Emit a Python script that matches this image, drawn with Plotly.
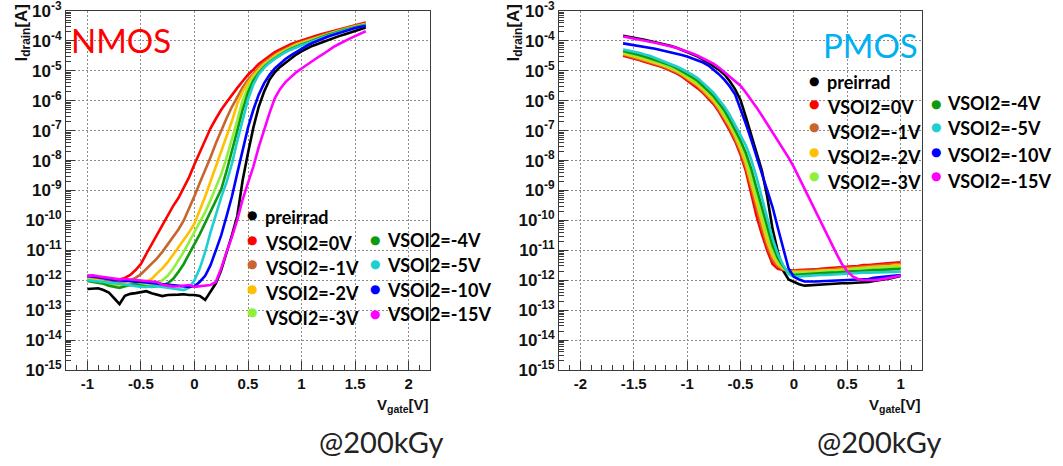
import plotly.graph_objects as go

W, H = 1063, 466

# ---------------- DATA ----------------
nmos_vgate = [-1.0, -0.95, -0.9, -0.85, -0.8, -0.75, -0.7, -0.65, -0.6, -0.55,
              -0.5, -0.45, -0.4, -0.35, -0.3, -0.25, -0.2, -0.15, -0.1, -0.05,
              0.0, 0.05, 0.1, 0.15, 0.2, 0.25, 0.3, 0.35, 0.4, 0.45,
              0.5, 0.55, 0.6, 0.65, 0.7, 0.75, 0.8, 0.85, 0.9, 0.95,
              1.0, 1.05, 1.1, 1.15, 1.2, 1.25, 1.3, 1.35, 1.4, 1.45,
              1.5, 1.55, 1.6]

nmos_preirrad = [5.1e-13, 5.2e-13, 5.4e-13, 4.7e-13, 3.9e-13, 2.5e-13, 1.6e-13, 3.0e-13, 3.5e-13, 3.7e-13,
                 4.0e-13, 4.3e-13, 3.7e-13, 3.3e-13, 2.95e-13, 3.2e-13, 3.2e-13, 3.3e-13, 3.4e-13, 3.2e-13,
                 3.2e-13, 3.0e-13, 2.2e-13, 4.0e-13, 7.9e-13, 2.2e-12, 7.9e-12, 3.2e-11, 1.4e-10, 2.2e-9,
                 1.8e-8, 1.26e-7, 6.3e-7, 2.0e-6, 5.0e-6, 8.9e-6, 1.35e-5, 1.9e-5, 2.6e-5, 3.5e-5,
                 4.5e-5, 5.6e-5, 6.8e-5, 7.9e-5, 9.3e-5, 1.07e-4, 1.23e-4, 1.45e-4, 1.65e-4, 1.9e-4,
                 2.2e-4, 2.45e-4, 2.8e-4]
nmos_vsoi_0 = [1.3e-12, 1.2e-12, 1.1e-12, 1.05e-12, 1.0e-12, 1.0e-12, 1.05e-12, 1.2e-12, 1.5e-12, 2.2e-12,
               3.5e-12, 7.6e-12, 1.6e-11, 3.4e-11, 7.6e-11, 1.5e-10, 3.0e-10, 5.6e-10, 1.2e-9, 2.8e-9,
               7.6e-9, 2.0e-8, 4.8e-8, 1.2e-7, 2.5e-7, 5.0e-7, 8.9e-7, 1.6e-6, 2.7e-6, 4.5e-6,
               7.4e-6, 1.1e-5, 1.7e-5, 2.3e-5, 3.2e-5, 4.2e-5, 5.2e-5, 6.5e-5, 7.8e-5, 9.1e-5,
               1.05e-4, 1.2e-4, 1.4e-4, 1.55e-4, 1.75e-4, 1.95e-4, 2.2e-4, 2.45e-4, 2.75e-4, 3.0e-4,
               3.4e-4, 3.7e-4, 4.1e-4]
nmos_vsoi_m1 = [1.2e-12, 1.1e-12, 1.05e-12, 1.0e-12, 9.3e-13, 8.9e-13, 8.9e-13, 9.1e-13, 1.0e-12, 1.2e-12,
                1.6e-12, 2.4e-12, 3.5e-12, 5.4e-12, 8.9e-12, 1.6e-11, 2.8e-11, 5.0e-11, 1.0e-10, 2.5e-10,
                6.6e-10, 1.8e-9, 4.7e-9, 1.3e-8, 3.8e-8, 1.05e-7, 2.6e-7, 6.3e-7, 1.4e-6, 2.8e-6,
                5.0e-6, 8.3e-6, 1.26e-5, 1.9e-5, 2.6e-5, 3.5e-5, 4.5e-5, 5.5e-5, 6.8e-5, 8.1e-5,
                9.3e-5, 1.07e-4, 1.23e-4, 1.4e-4, 1.6e-4, 1.8e-4, 2.0e-4, 2.3e-4, 2.6e-4, 2.9e-4,
                3.2e-4, 3.5e-4, 3.8e-4]
nmos_vsoi_m2 = [1.1e-12, 1.05e-12, 1.0e-12, 8.9e-13, 7.9e-13, 7.1e-13, 6.6e-13, 6.3e-13, 6.8e-13, 7.1e-13,
                7.6e-13, 8.9e-13, 1.1e-12, 1.7e-12, 2.5e-12, 4.0e-12, 7.1e-12, 1.2e-11, 2.1e-11, 4.0e-11,
                7.9e-11, 2.1e-10, 6.3e-10, 2.0e-9, 6.3e-9, 2.0e-8, 6.3e-8, 2.1e-7, 7.9e-7, 2.0e-6,
                4.0e-6, 7.1e-6, 1.1e-5, 1.7e-5, 2.3e-5, 3.2e-5, 4.1e-5, 5.1e-5, 6.3e-5, 7.6e-5,
                8.7e-5, 1.0e-4, 1.15e-4, 1.3e-4, 1.5e-4, 1.75e-4, 1.95e-4, 2.2e-4, 2.45e-4, 2.75e-4,
                3.0e-4, 3.3e-4, 3.7e-4]
nmos_vsoi_m3 = [1.07e-12, 1.0e-12, 9.3e-13, 8.7e-13, 7.9e-13, 7.6e-13, 7.2e-13, 7.1e-13, 7.2e-13, 7.6e-13,
                7.1e-13, 6.6e-13, 6.9e-13, 7.9e-13, 1.0e-12, 1.4e-12, 2.4e-12, 4.5e-12, 8.9e-12, 1.9e-11,
                4.0e-11, 8.5e-11, 1.9e-10, 4.7e-10, 1.26e-9, 3.5e-9, 1.26e-8, 5.0e-8, 2.2e-7, 1.05e-6,
                2.8e-6, 5.6e-6, 9.5e-6, 1.5e-5, 2.1e-5, 2.8e-5, 3.7e-5, 4.7e-5, 5.8e-5, 6.9e-5,
                8.1e-5, 9.3e-5, 1.07e-4, 1.26e-4, 1.45e-4, 1.65e-4, 1.9e-4, 2.15e-4, 2.4e-4, 2.7e-4,
                2.95e-4, 3.3e-4, 3.6e-4]
nmos_vsoi_m4 = [9.5e-13, 8.9e-13, 8.3e-13, 7.6e-13, 6.6e-13, 6.0e-13, 5.5e-13, 6.3e-13, 7.1e-13, 7.4e-13,
                6.6e-13, 6.3e-13, 6.0e-13, 6.3e-13, 6.8e-13, 7.9e-13, 1.1e-12, 1.9e-12, 3.5e-12, 7.6e-12,
                1.6e-11, 3.5e-11, 8.3e-11, 2.0e-10, 4.8e-10, 1.1e-9, 4.5e-9, 2.0e-8, 1.0e-7, 5.0e-7,
                1.9e-6, 4.7e-6, 8.5e-6, 1.35e-5, 1.95e-5, 2.6e-5, 3.5e-5, 4.4e-5, 5.4e-5, 6.5e-5,
                7.6e-5, 8.7e-5, 1.02e-4, 1.2e-4, 1.4e-4, 1.6e-4, 1.8e-4, 2.1e-4, 2.35e-4, 2.6e-4,
                2.9e-4, 3.2e-4, 3.5e-4]
nmos_vsoi_m5 = [1.0e-12, 9.5e-13, 8.9e-13, 8.3e-13, 7.9e-13, 7.9e-13, 7.6e-13, 7.1e-13, 6.8e-13, 6.3e-13,
                6.0e-13, 6.0e-13, 6.3e-13, 6.3e-13, 6.0e-13, 5.6e-13, 5.2e-13, 4.8e-13, 4.7e-13, 5.6e-13,
                1.0e-12, 2.5e-12, 8.9e-12, 4.0e-11, 1.6e-10, 6.0e-10, 1.9e-9, 7.9e-9, 4.5e-8, 2.5e-7,
                1.1e-6, 3.5e-6, 7.6e-6, 1.26e-5, 1.85e-5, 2.5e-5, 3.3e-5, 4.2e-5, 5.1e-5, 6.2e-5,
                7.2e-5, 8.3e-5, 9.8e-5, 1.1e-4, 1.3e-4, 1.5e-4, 1.75e-4, 2.0e-4, 2.25e-4, 2.5e-4,
                2.8e-4, 3.1e-4, 3.4e-4]
nmos_vsoi_m10 = [1.4e-12, 1.3e-12, 1.26e-12, 1.2e-12, 1.07e-12, 1.0e-12, 1.0e-12, 9.5e-13, 9.3e-13, 8.9e-13,
                 8.7e-13, 8.3e-13, 7.9e-13, 7.6e-13, 7.6e-13, 7.2e-13, 6.6e-13, 6.3e-13, 6.0e-13, 6.0e-13,
                 6.3e-13, 8.9e-13, 1.4e-12, 3.2e-12, 1.0e-11, 3.2e-11, 1.4e-10, 6.3e-10, 3.8e-9, 2.5e-8,
                 1.26e-7, 5.0e-7, 1.6e-6, 3.8e-6, 7.2e-6, 1.2e-5, 1.8e-5, 2.5e-5, 3.3e-5, 4.3e-5,
                 5.5e-5, 6.9e-5, 8.5e-5, 1.02e-4, 1.2e-4, 1.4e-4, 1.6e-4, 1.85e-4, 2.1e-4, 2.4e-4,
                 2.7e-4, 2.95e-4, 3.2e-4]
nmos_vsoi_m15 = [1.4e-12, 1.45e-12, 1.35e-12, 1.26e-12, 1.2e-12, 1.1e-12, 1.07e-12, 1.1e-12, 1.07e-12, 1.0e-12,
                 9.8e-13, 9.5e-13, 9.1e-13, 8.7e-13, 7.1e-13, 6.6e-13, 6.2e-13, 6.3e-13, 6.5e-13, 6.9e-13,
                 6.0e-13, 6.3e-13, 6.9e-13, 6.9e-13, 8.9e-13, 2.5e-12, 8.9e-12, 2.8e-11, 1.05e-10, 5.0e-10,
                 1.8e-9, 6.3e-9, 2.8e-8, 1.1e-7, 3.8e-7, 1.2e-6, 2.5e-6, 4.2e-6, 6.3e-6, 8.9e-6,
                 1.2e-5, 1.6e-5, 2.2e-5, 2.8e-5, 3.6e-5, 4.8e-5, 6.3e-5, 7.9e-5, 1.0e-4, 1.2e-4,
                 1.45e-4, 1.75e-4, 2.1e-4]

pmos_vgate = [-1.6, -1.55, -1.5, -1.45, -1.4, -1.35, -1.3, -1.25, -1.2, -1.15,
              -1.1, -1.05, -1.0, -0.95, -0.9, -0.85, -0.8, -0.75, -0.7, -0.65,
              -0.6, -0.55, -0.5, -0.45, -0.4, -0.35, -0.3, -0.25, -0.2, -0.15,
              -0.1, -0.05, 0.0, 0.05, 0.1, 0.15, 0.2, 0.25, 0.3, 0.35,
              0.4, 0.45, 0.5, 0.55, 0.6, 0.65, 0.7, 0.75, 0.8, 0.85,
              0.9, 0.95, 1.0]

pmos_preirrad = [1.5e-4, 1.4e-4, 1.3e-4, 1.2e-4, 1.1e-4, 1.0e-4, 9.1e-5, 8.3e-5, 7.6e-5, 6.8e-5,
                 5.9e-5, 5.1e-5, 4.4e-5, 3.6e-5, 3.0e-5, 2.4e-5, 1.9e-5, 1.4e-5, 1.07e-5, 7.6e-6,
                 4.5e-6, 2.4e-6, 1.07e-6, 2.9e-7, 7.2e-8, 1.8e-8, 4.6e-9, 6.3e-10, 5.2e-11, 8.9e-12,
                 2.1e-12, 1.07e-12, 8.7e-13, 7.4e-13, 6.6e-13, 6.8e-13, 7.1e-13, 7.4e-13, 7.6e-13, 7.8e-13,
                 7.9e-13, 7.9e-13, 7.9e-13, 8.1e-13, 8.1e-13, 8.3e-13, 8.7e-13, 9.5e-13, 1.0e-12, 1.05e-12,
                 1.15e-12, 1.26e-12, 1.4e-12]
pmos_vsoi_0 = [3.2e-5, 2.9e-5, 2.6e-5, 2.3e-5, 2.0e-5, 1.8e-5, 1.6e-5, 1.4e-5, 1.2e-5, 1.0e-5,
               8.3e-6, 6.5e-6, 4.9e-6, 3.6e-6, 2.6e-6, 1.8e-6, 1.2e-6, 7.6e-7, 4.2e-7, 2.1e-7,
               1.0e-7, 4.4e-8, 1.6e-8, 4.5e-9, 7.9e-10, 1.4e-10, 3.5e-11, 1.0e-11, 3.5e-12, 2.4e-12,
               2.2e-12, 2.1e-12, 2.1e-12, 2.2e-12, 2.2e-12, 2.3e-12, 2.3e-12, 2.4e-12, 2.5e-12, 2.5e-12,
               2.6e-12, 2.75e-12, 2.8e-12, 2.95e-12, 3.0e-12, 3.2e-12, 3.2e-12, 3.4e-12, 3.5e-12, 3.6e-12,
               3.7e-12, 3.9e-12, 4.0e-12]
pmos_vsoi_m1 = [3.5e-5, 3.1e-5, 2.75e-5, 2.5e-5, 2.2e-5, 2.0e-5, 1.7e-5, 1.5e-5, 1.26e-5, 1.07e-5,
                8.9e-6, 7.1e-6, 5.4e-6, 4.1e-6, 3.0e-6, 2.0e-6, 1.35e-6, 8.7e-7, 4.8e-7, 2.45e-7,
                1.2e-7, 5.2e-8, 2.0e-8, 6.0e-9, 1.2e-9, 2.2e-10, 5.4e-11, 1.4e-11, 4.8e-12, 2.9e-12,
                2.3e-12, 2.0e-12, 2.0e-12, 2.0e-12, 2.1e-12, 2.1e-12, 2.2e-12, 2.2e-12, 2.3e-12, 2.3e-12,
                2.45e-12, 2.6e-12, 2.6e-12, 2.7e-12, 2.75e-12, 2.9e-12, 2.95e-12, 3.1e-12, 3.2e-12, 3.3e-12,
                3.4e-12, 3.5e-12, 3.5e-12]
pmos_vsoi_m2 = [3.7e-5, 3.4e-5, 3.0e-5, 2.7e-5, 2.4e-5, 2.1e-5, 1.85e-5, 1.6e-5, 1.4e-5, 1.2e-5,
                9.8e-6, 7.8e-6, 5.9e-6, 4.5e-6, 3.3e-6, 2.3e-6, 1.55e-6, 9.8e-7, 5.6e-7, 2.9e-7,
                1.45e-7, 6.5e-8, 2.5e-8, 8.1e-9, 1.8e-9, 3.5e-10, 8.1e-11, 2.0e-11, 6.5e-12, 3.4e-12,
                2.45e-12, 1.95e-12, 1.9e-12, 1.9e-12, 1.95e-12, 2.0e-12, 2.0e-12, 2.1e-12, 2.1e-12, 2.2e-12,
                2.2e-12, 2.3e-12, 2.4e-12, 2.5e-12, 2.6e-12, 2.6e-12, 2.7e-12, 2.8e-12, 2.95e-12, 2.95e-12,
                3.0e-12, 3.2e-12, 3.2e-12]
pmos_vsoi_m3 = [4.2e-5, 3.7e-5, 3.3e-5, 3.0e-5, 2.7e-5, 2.4e-5, 2.1e-5, 1.8e-5, 1.5e-5, 1.3e-5,
                1.1e-5, 8.7e-6, 6.8e-6, 5.2e-6, 3.9e-6, 2.7e-6, 1.8e-6, 1.2e-6, 6.8e-7, 3.6e-7,
                1.8e-7, 8.3e-8, 3.4e-8, 1.2e-8, 3.0e-9, 6.3e-10, 1.4e-10, 3.3e-11, 9.5e-12, 4.3e-12,
                2.6e-12, 1.9e-12, 1.7e-12, 1.75e-12, 1.8e-12, 1.8e-12, 1.9e-12, 1.9e-12, 1.95e-12, 2.0e-12,
                2.0e-12, 2.1e-12, 2.2e-12, 2.2e-12, 2.3e-12, 2.4e-12, 2.4e-12, 2.5e-12, 2.6e-12, 2.6e-12,
                2.7e-12, 2.75e-12, 2.8e-12]
pmos_vsoi_m4 = [4.6e-5, 4.2e-5, 3.8e-5, 3.4e-5, 3.0e-5, 2.7e-5, 2.3e-5, 2.0e-5, 1.75e-5, 1.5e-5,
                1.23e-5, 9.8e-6, 7.8e-6, 6.0e-6, 4.6e-6, 3.2e-6, 2.1e-6, 1.4e-6, 8.3e-7, 4.7e-7,
                2.3e-7, 1.1e-7, 4.7e-8, 1.8e-8, 5.4e-9, 1.2e-9, 2.6e-10, 5.5e-11, 1.45e-11, 5.5e-12,
                2.9e-12, 1.75e-12, 1.5e-12, 1.55e-12, 1.6e-12, 1.6e-12, 1.65e-12, 1.7e-12, 1.75e-12, 1.8e-12,
                1.8e-12, 1.9e-12, 1.9e-12, 2.0e-12, 2.0e-12, 2.1e-12, 2.1e-12, 2.2e-12, 2.2e-12, 2.2e-12,
                2.3e-12, 2.35e-12, 2.4e-12]
pmos_vsoi_m5 = [5.2e-5, 4.8e-5, 4.4e-5, 4.0e-5, 3.5e-5, 3.2e-5, 2.7e-5, 2.3e-5, 2.0e-5, 1.7e-5,
                1.4e-5, 1.15e-5, 9.3e-6, 7.4e-6, 5.6e-6, 4.0e-6, 2.7e-6, 1.8e-6, 1.1e-6, 6.3e-7,
                3.3e-7, 1.6e-7, 7.1e-8, 3.2e-8, 1.1e-8, 2.8e-9, 5.6e-10, 1.07e-10, 2.5e-11, 7.6e-12,
                3.2e-12, 1.6e-12, 1.3e-12, 1.35e-12, 1.4e-12, 1.4e-12, 1.45e-12, 1.5e-12, 1.5e-12, 1.55e-12,
                1.6e-12, 1.6e-12, 1.65e-12, 1.7e-12, 1.75e-12, 1.8e-12, 1.8e-12, 1.8e-12, 1.85e-12, 1.85e-12,
                1.9e-12, 1.9e-12, 1.95e-12]
pmos_vsoi_m10 = [8.3e-5, 7.8e-5, 7.2e-5, 6.8e-5, 6.3e-5, 5.9e-5, 5.5e-5, 5.0e-5, 4.6e-5, 4.2e-5,
                 3.8e-5, 3.4e-5, 3.0e-5, 2.6e-5, 2.2e-5, 1.9e-5, 1.5e-5, 1.07e-5, 7.6e-6, 5.0e-6,
                 3.0e-6, 1.6e-6, 5.6e-7, 1.7e-7, 5.0e-8, 1.4e-8, 4.0e-9, 1.1e-9, 2.8e-10, 5.6e-11,
                 1.26e-11, 2.5e-12, 1.3e-12, 1.05e-12, 9.1e-13, 8.9e-13, 9.1e-13, 9.3e-13, 9.5e-13, 9.5e-13,
                 9.8e-13, 1.0e-12, 1.0e-12, 1.02e-12, 1.05e-12, 1.07e-12, 1.1e-12, 1.2e-12, 1.26e-12, 1.3e-12,
                 1.4e-12, 1.45e-12, 1.5e-12]
pmos_vsoi_m15 = [1.4e-4, 1.3e-4, 1.2e-4, 1.1e-4, 1.05e-4, 9.5e-5, 8.7e-5, 7.9e-5, 7.2e-5, 6.6e-5,
                 5.9e-5, 5.1e-5, 4.5e-5, 3.8e-5, 3.2e-5, 2.6e-5, 2.1e-5, 1.7e-5, 1.26e-5, 8.9e-6,
                 6.6e-6, 4.7e-6, 3.2e-6, 1.9e-6, 1.1e-6, 6.0e-7, 3.2e-7, 1.7e-7, 8.9e-8, 4.7e-8,
                 2.5e-8, 1.26e-8, 6.0e-9, 2.6e-9, 1.1e-9, 4.7e-10, 2.0e-10, 8.7e-11, 3.8e-11, 1.7e-11,
                 7.6e-12, 3.5e-12, 2.0e-12, 1.35e-12, 1.1e-12, 1.02e-12, 1.0e-12, 1.0e-12, 1.05e-12, 1.1e-12,
                 1.2e-12, 1.3e-12, 1.45e-12]

series_names = ["preirrad", "VSOI2=0V", "VSOI2=-1V", "VSOI2=-2V", "VSOI2=-3V",
                "VSOI2=-4V", "VSOI2=-5V", "VSOI2=-10V", "VSOI2=-15V"]
series_colors = ["#000000", "#FF0000", "#C8642D", "#FFC000", "#90F038",
                 "#0E9A0E", "#1ECFCF", "#0000FF", "#FF00FF"]
nmos_series = [nmos_preirrad, nmos_vsoi_0, nmos_vsoi_m1, nmos_vsoi_m2, nmos_vsoi_m3,
               nmos_vsoi_m4, nmos_vsoi_m5, nmos_vsoi_m10, nmos_vsoi_m15]
pmos_series = [pmos_preirrad, pmos_vsoi_0, pmos_vsoi_m1, pmos_vsoi_m2, pmos_vsoi_m3,
               pmos_vsoi_m4, pmos_vsoi_m5, pmos_vsoi_m10, pmos_vsoi_m15]

y_tickvals = [1e-15, 1e-14, 1e-13, 1e-12, 1e-11, 1e-10, 1e-9, 1e-8, 1e-7, 1e-6, 1e-5, 1e-4, 1e-3]
y_ticktext = ["10<sup>-15</sup>", "10<sup>-14</sup>", "10<sup>-13</sup>", "10<sup>-12</sup>",
              "10<sup>-11</sup>", "10<sup>-10</sup>", "10<sup>-9</sup>", "10<sup>-8</sup>",
              "10<sup>-7</sup>", "10<sup>-6</sup>", "10<sup>-5</sup>", "10<sup>-4</sup>", "10<sup>-3</sup>"]
nmos_x_tickvals = [-1, -0.5, 0, 0.5, 1, 1.5, 2]
nmos_x_ticktext = ["-1", "-0.5", "0", "0.5", "1", "1.5", "2"]
pmos_x_tickvals = [-2, -1.5, -1, -0.5, 0, 0.5, 1]
pmos_x_ticktext = ["-2", "-1.5", "-1", "-0.5", "0", "0.5", "1"]

# ---------------- FIGURE ----------------
fig = go.Figure()

for ys, name, col in zip(nmos_series, series_names, series_colors):
    fig.add_trace(go.Scatter(x=nmos_vgate, y=ys, mode="lines", name=name,
                             line=dict(color=col, width=2.6), xaxis="x", yaxis="y",
                             showlegend=False))
for ys, name, col in zip(pmos_series, series_names, series_colors):
    fig.add_trace(go.Scatter(x=pmos_vgate, y=ys, mode="lines", name=name,
                             line=dict(color=col, width=2.6), xaxis="x2", yaxis="y2",
                             showlegend=False))


def px(v):
    return v / W


def py(v):
    return 1 - v / H


minor_log = [m * 10.0 ** e for e in range(-15, -3) for m in range(2, 10)]

xtick_font = dict(family="Liberation Sans, Arial, sans-serif", size=15, color="#111111", weight="bold")
ytick_font = dict(family="Liberation Sans, Arial, sans-serif", size=17, color="#111111", weight="bold")
common = dict(showline=True, linecolor="#3a3a3a", linewidth=1, mirror=True,
              ticks="inside", ticklen=9, tickwidth=1, tickcolor="#3a3a3a",
              showgrid=True, gridcolor="#8c8c8c", griddash="2px,2px", gridwidth=1,
              zeroline=False, fixedrange=True, automargin=False, ticklabeloverflow="allow")

xminor = dict(ticks="inside", ticklen=5, dtick=0.1, tick0=0, tickcolor="#3a3a3a", showgrid=False)
yminor = dict(ticks="inside", ticklen=5, tickmode="array", tickvals=minor_log,
              tickcolor="#3a3a3a", showgrid=False)

dom_y = [py(370), py(11)]
y_range = [-15.0008, -2.9992]
fig.update_layout(
    width=W, height=H,
    margin=dict(l=0, r=0, t=0, b=0, autoexpand=False),
    paper_bgcolor="white", plot_bgcolor="white",
    showlegend=False,
    xaxis=dict(domain=[px(66), px(430)], range=[-1.2, 2.2], anchor="y",
               tickmode="array", tickvals=nmos_x_tickvals, ticktext=nmos_x_ticktext,
               tickfont=xtick_font, minor=xminor, **common),
    yaxis=dict(domain=dom_y, type="log", range=y_range, anchor="x",
               tickmode="array", tickvals=y_tickvals, ticktext=y_ticktext,
               tickfont=ytick_font, minor=yminor, **common),
    xaxis2=dict(domain=[px(559), px(922)], range=[-2.2, 1.2], anchor="y2",
                tickmode="array", tickvals=pmos_x_tickvals, ticktext=pmos_x_ticktext,
                tickfont=xtick_font, minor=xminor, **common),
    yaxis2=dict(domain=dom_y, type="log", range=y_range, anchor="x2",
                tickmode="array", tickvals=y_tickvals, ticktext=y_ticktext,
                tickfont=ytick_font, minor=yminor, **common),
)

ann = []
axis_title_font = dict(family="Liberation Sans, Arial, sans-serif", size=17, color="#111111", weight="bold")
# y-axis titles
for cx in (22, 514):
    ann.append(dict(x=px(cx), y=py(3), xref="paper", yref="paper", text="I<sub>drain</sub>[A]",
                    textangle=-90, xanchor="center", yanchor="top", showarrow=False,
                    font=axis_title_font))
# x-axis titles
for rx in (431, 923):
    ann.append(dict(x=px(rx), y=py(394), xref="paper", yref="paper", text="V<sub>gate</sub>[V]",
                    xanchor="right", yanchor="top", showarrow=False,
                    font=dict(family="Liberation Sans, Arial, sans-serif", size=15,
                              color="#111111", weight="bold")))
# @200kGy
for lx in (317, 815):
    ann.append(dict(x=px(lx), y=py(441), xref="paper", yref="paper", text="@200kGy",
                    xanchor="left", yanchor="middle", showarrow=False,
                    font=dict(family="Lato, sans-serif", size=29, color="#222222")))
# Panel labels
ann.append(dict(x=px(69), y=py(40), xref="paper", yref="paper", text="NMOS",
                xanchor="left", yanchor="middle", showarrow=False,
                font=dict(family="Lato, sans-serif", size=33, color="#FF0000")))
ann.append(dict(x=px(821), y=py(45), xref="paper", yref="paper", text="PMOS",
                xanchor="left", yanchor="middle", showarrow=False,
                font=dict(family="Lato, sans-serif", size=33, color="#00B0F0")))

legend_font = dict(family="Lato, sans-serif", size=18, color="#000000", weight="bold")


def legend_entry(dot_x, dot_y, text_x, text_y, idx):
    ann.append(dict(x=px(dot_x), y=py(dot_y), xref="paper", yref="paper", text="\u25CF",
                    xanchor="center", yanchor="middle", showarrow=False,
                    font=dict(family="DejaVu Sans", size=12, color=series_colors[idx])))
    ann.append(dict(x=px(text_x), y=py(text_y), xref="paper", yref="paper", text=series_names[idx],
                    xanchor="left", yanchor="middle", showarrow=False, font=legend_font))


# NMOS legend
nm_c1_dots = [215, 239.5, 263.5, 288.5, 312]
nm_c1_text = [217, 243, 268, 293, 318]
for i in range(5):
    legend_entry(251.5, nm_c1_dots[i], 263, nm_c1_text[i], i)
nm_c2_dots = [239.5, 263.5, 288.5, 313.5]
nm_c2_text = [240, 265, 290, 314]
for i in range(4):
    legend_entry(375, nm_c2_dots[i], 385, nm_c2_text[i], 5 + i)

# PMOS legend
pm_c1_dots = [81, 103.5, 127.5, 151.5, 176]
pm_c1_text = [82, 107, 132, 157, 182]
for i in range(5):
    legend_entry(814, pm_c1_dots[i], 825, pm_c1_text[i], i)
pm_c2_dots = [103.5, 127.5, 151.5, 176.5]
pm_c2_text = [103, 128, 155, 181]
for i in range(4):
    legend_entry(936.5, pm_c2_dots[i], 945, pm_c2_text[i], 5 + i)

fig.update_layout(annotations=ann)

fig.write_html("out.html",
               config={"displayModeBar": False, "staticPlot": True},
               post_script="document.body.style.margin='0px';document.body.style.padding='0px';"
                           "document.documentElement.style.overflow='hidden';")
